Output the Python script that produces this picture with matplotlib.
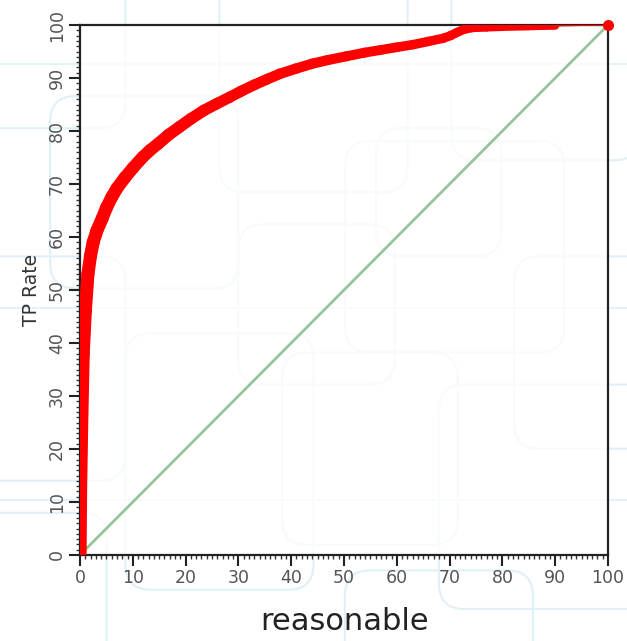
import matplotlib
matplotlib.use("Agg")
import matplotlib.pyplot as plt
import numpy as np
from matplotlib.collections import LineCollection
from matplotlib.patches import FancyBboxPatch
from matplotlib.ticker import MultipleLocator

# ROC curve (percent)
fp_rate = [0, 0.1, 0.3, 0.6, 1.0, 1.5, 2, 2.5, 3.2, 4.2, 5, 6, 7, 8.5, 10, 11.9,
           13.3, 14.8, 16.8, 18.9, 21, 23.5, 26, 28.4, 30.5, 33, 35.5, 37.9, 41,
           44, 47, 50.5, 54, 57, 60, 63.1, 66, 68.8, 70.2, 71.4, 72.8, 74.4, 77,
           80, 85, 90, 95, 100]
tp_rate = [0, 12, 24, 38, 46, 53, 56.5, 59, 61.2, 63.5, 65.5, 67.5, 69.2, 71.2,
           73, 75.1, 76.4, 77.6, 79.3, 80.8, 82.3, 83.9, 85.2, 86.4, 87.5, 88.7,
           89.8, 90.8, 91.8, 92.7, 93.4, 94.1, 94.8, 95.3, 95.8, 96.3, 96.9, 97.5,
           98.0, 98.6, 99.2, 99.5, 99.6, 99.7, 99.8, 99.9, 100, 100]
diag = [0, 100]
ticks = list(range(0, 101, 10))
xlabel = "reasonable"
ylabel = "TP Rate"

fig = plt.figure(figsize=(6.27, 6.41), dpi=100)
fig.patch.set_facecolor("white")

# faint rounded-box wallpaper behind everything
bg = "#e0f0f6"
boxes = [(-0.05, 0.80, 0.25, 0.25), (0.08, 0.55, 0.30, 0.30), (0.35, 0.70, 0.30, 0.35),
         (0.55, 0.45, 0.35, 0.33), (0.72, 0.75, 0.30, 0.30), (-0.05, 0.25, 0.25, 0.35),
         (0.20, 0.08, 0.30, 0.40), (0.45, 0.15, 0.28, 0.30), (0.70, 0.05, 0.35, 0.35),
         (0.38, 0.40, 0.25, 0.25), (0.82, 0.30, 0.25, 0.30), (-0.05, -0.05, 0.22, 0.25),
         (0.55, -0.05, 0.30, 0.16), (0.60, 0.60, 0.20, 0.20)]
for bx, by, bw, bh in boxes:
    fig.patches.append(FancyBboxPatch((bx, by), bw, bh, boxstyle="round,pad=0,rounding_size=0.04",
                                      transform=fig.transFigure, fill=False,
                                      edgecolor=bg, lw=1.5, zorder=-1))
for yy in [0.52, 0.90, 0.22]:
    fig.lines.append(plt.Line2D([0, 1], [yy, yy], transform=fig.transFigure,
                                color=bg, lw=1.2, zorder=-1))

ax = fig.add_axes([80/627, 1 - 555/641, 528/627, 530/641])
ax.patch.set_facecolor("white")
ax.patch.set_alpha(0.75)

ax.plot(diag, diag, color="#98c49a", lw=2, zorder=2)

# thick red curve, slowly thinning, thin tail after x=90
pts = np.column_stack([fp_rate, tp_rate])
segs = np.stack([pts[:-1], pts[1:]], axis=1)
mids = (pts[:-1, 0] + pts[1:, 0]) / 2
widths = np.interp(mids, [0, 10, 40, 75, 89], [9.5, 9, 7.5, 6.5, 6])
widths[mids > 90] = 1.5
lc = LineCollection(segs, linewidths=widths, colors="#ff0000", capstyle="round",
                    joinstyle="round", zorder=3)
ax.add_collection(lc)
ax.plot([fp_rate[-1]], [tp_rate[-1]], "o", color="#ff0000", ms=7, zorder=4, clip_on=False)

ax.set_xlim(0, 100)
ax.set_ylim(0, 100)
ax.set_xticks(ticks)
ax.set_yticks(ticks)
ax.xaxis.set_minor_locator(MultipleLocator(1))
ax.yaxis.set_minor_locator(MultipleLocator(1))
ax.tick_params(which="major", direction="out", length=8, width=1.5, color="#222222",
               labelsize=12.5, labelcolor="#555555", pad=2)
ax.tick_params(which="minor", direction="out", length=3, width=1, color="#333333")
for lab in ax.get_yticklabels():
    lab.set_rotation(90)
    lab.set_va("center")
for sp in ax.spines.values():
    sp.set_linewidth(1.6)
    sp.set_color("#222222")

ax.set_ylabel(ylabel, fontsize=13.5, color="#333333", labelpad=5)
fig.text(345/627, 1 - 622/641, xlabel, fontsize=22, color="#222222", ha="center", va="center")

fig.savefig("out.png", dpi=100)
